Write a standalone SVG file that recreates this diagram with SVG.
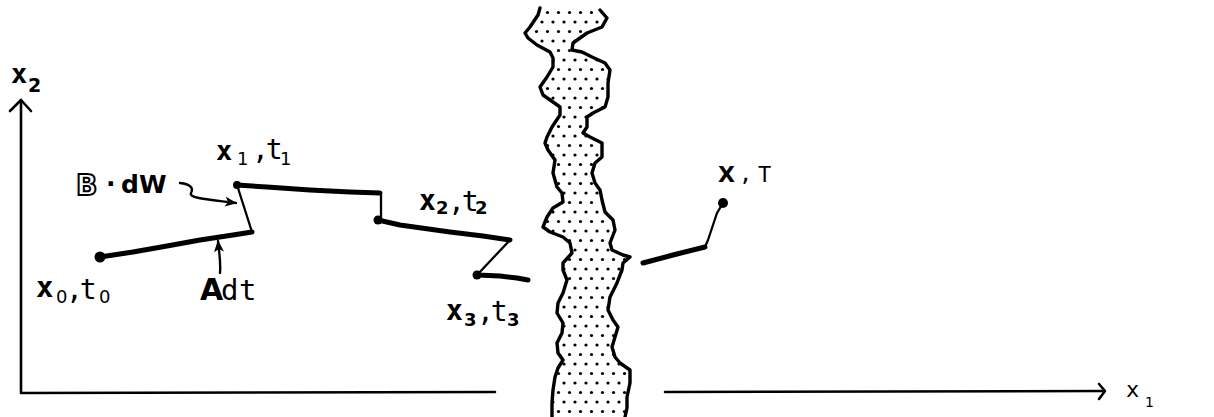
<svg xmlns="http://www.w3.org/2000/svg" width="1214" height="417" viewBox="0 0 1214 417">
<style>
.ax{fill:none;stroke:#000;stroke-width:2.6;stroke-linecap:round;stroke-linejoin:round}
.thick{fill:none;stroke:#000;stroke-width:5;stroke-linecap:round;stroke-linejoin:round}
.thin{fill:none;stroke:#000;stroke-width:2.3;stroke-linecap:round;stroke-linejoin:round}
.edge{fill:none;stroke:#000;stroke-width:3.4;stroke-linecap:round;stroke-linejoin:round}
.bx{font-family:"DejaVu Sans Mono",monospace;font-weight:bold;font-size:29px}
.rg{font-family:"DejaVu Sans Mono",monospace;font-size:28px}
.ct{font-family:"DejaVu Sans Mono",monospace;font-size:28px;letter-spacing:-3px}
.sub{font-family:"DejaVu Sans",sans-serif;font-size:18px}
.subb{font-family:"DejaVu Sans",sans-serif;font-weight:bold;font-size:18px}
.sb{font-family:"DejaVu Sans",sans-serif;font-weight:bold}
.ptr{fill:none;stroke:#000;stroke-width:2.4;stroke-linecap:round;stroke-linejoin:round}
</style>
<defs>
<pattern id="dots" patternUnits="userSpaceOnUse" width="11" height="19">
<rect width="11" height="19" fill="#fff"/>
<circle cx="3" cy="3" r="1.6" fill="#000"/>
<circle cx="8.5" cy="12.5" r="1.6" fill="#000"/>
</pattern>
<marker id="ah" viewBox="0 0 12 10" refX="11" refY="5" markerWidth="12" markerHeight="10" markerUnits="userSpaceOnUse" orient="auto">
<path d="M0,0 L12,5 L0,10 L3,5 Z" fill="#000"/>
</marker>
</defs>
<rect width="1214" height="417" fill="#fff"/>

<g id="axes">
<polyline class="ax" points="21,100 21,393 495,392"/>
<polyline class="ax" points="10,111 21,100 31,111"/>
<line class="ax" x1="665" y1="392" x2="1104" y2="391"/>
<polyline class="ax" points="1099,384 1105,391 1099,399"/>
<text class="bx" x="11" y="83" style="font-size:27px">x</text>
<text class="subb" x="28" y="92" style="font-size:19px">2</text>
<text class="rg" x="1126" y="397" style="font-size:22px">x</text>
<text class="sub" x="1145" y="407" style="font-size:14px">1</text>
</g>

<g id="barrier">
<polygon fill="url(#dots)" points="540,8 538,15 530,27 525,33 528,38 537,45 550,52 553,58 553,67 547,77 540,87 543,95 553,102 560,107 560,115 552,127 547,137 545,143 548,150 555,160 553,173 557,187 562,193 563,202 553,208 547,217 543,227 550,232 563,237 570,243 572,253 563,263 563,270 567,280 563,293 558,303 557,313 563,323 562,333 557,343 558,353 563,360 558,368 555,377 553,390 552,403 552,417 625,417 627,408 627,397 630,383 630,370 620,363 615,357 612,347 615,337 618,327 613,320 608,310 610,297 617,283 620,275 622,270 623,263 630,257 623,255 612,250 610,243 615,230 613,220 605,212 602,200 600,190 595,183 592,173 595,163 602,157 602,143 590,137 583,133 587,127 587,117 593,113 605,107 608,97 608,83 610,70 605,63 592,57 582,52 572,50 573,43 587,33 602,27 607,18 600,10"/>
<polyline class="edge" points="540,8 538,15 530,27 525,33 528,38 537,45 550,52 553,58 553,67 547,77 540,87 543,95 553,102 560,107 560,115 552,127 547,137 545,143 548,150 555,160 553,173 557,187 562,193 563,202 553,208 547,217 543,227 550,232 563,237 570,243 572,253 563,263 563,270 567,280 563,293 558,303 557,313 563,323 562,333 557,343 558,353 563,360 558,368 555,377 553,390 552,403 552,417"/>
<polyline class="edge" points="600,10 607,18 602,27 587,33 573,43 572,50 582,52 592,57 605,63 610,70 608,83 608,97 605,107 593,113 587,117 587,127 583,133 590,137 602,143 602,157 595,163 592,173 595,183 600,190 602,200 605,212 613,220 615,230 610,243 612,250 623,255 630,257 623,263 622,270 620,275 617,283 610,297 608,310 613,320 618,327 615,337 612,347 615,357 620,363 630,370 630,383 627,397 627,408 625,417"/>
</g>

<g id="trajectory">
<polyline class="thick" points="100,257 133,252 167,246 200,240 233,235 252,232"/>
<polyline class="thin" points="252,232 237,185"/>
<polyline class="thick" points="237,185 267,187 310,190 350,192 380,193"/>
<polyline class="thin" points="381,193 381,220"/>
<polyline class="thick" points="378,220 400,225 450,232 483,236 510,240"/>
<polyline class="thin" points="510,240 477,275"/>
<polyline class="thick" points="477,275 500,276 517,278 528,280"/>
<polyline class="thick" points="643,263 673,255 705,247"/>
<polyline class="thin" points="705,247 708,240 717,213 723,203"/>
<circle cx="100" cy="257" r="5.5"/>
<circle cx="237" cy="185" r="4"/>
<circle cx="378" cy="220" r="4.5"/>
<circle cx="477" cy="275" r="4.5"/>
<circle cx="723" cy="203" r="5"/>
</g>

<g id="connectors">
<path class="ptr" d="M220,273 C221,262 219,252 218,241" marker-end="url(#ah)"/>
<path class="ptr" d="M180,183 C190,184 194,188 191,193 C189,198 205,199 236,203" marker-end="url(#ah)"/>
</g>

<g id="labels">
<text class="bx" x="36" y="297">x</text>
<text class="sub" x="56" y="303">0</text>
<text class="ct" x="66" y="299">,t</text>
<text class="sub" x="99" y="303">0</text>

<text class="bx" x="216" y="160" style="font-size:27px">x</text>
<text class="sub" x="237" y="165">1</text>
<text class="ct" x="252" y="159">,t</text>
<text class="sub" x="280" y="165">1</text>

<text class="bx" x="419" y="210" style="font-size:28px">x</text>
<text class="subb" x="436" y="214">2</text>
<text class="ct" x="448" y="211">,t</text>
<text class="subb" x="475" y="214">2</text>

<text class="bx" x="446" y="320" style="font-size:28px">x</text>
<text class="subb" x="464" y="326">3</text>
<text class="ct" x="477" y="321">,t</text>
<text class="subb" x="507" y="326">3</text>

<text class="sb" x="718" y="182" style="font-size:22px">X</text>
<text class="rg" x="739" y="181" style="font-size:22px">,</text>
<text class="rg" x="758" y="182" style="font-size:22px">T</text>

<text class="sb" x="76" y="195" style="font-size:28px;fill:#fff;stroke:#000;stroke-width:2">B</text>
<text class="sb" x="106" y="192" style="font-size:25px">·</text>
<text class="sb" x="121" y="193" style="font-size:25px">d</text>
<text class="sb" x="139" y="193" style="font-size:25px">W</text>

<text class="sb" x="200" y="300" style="font-size:30px">A</text>
<text class="rg" x="221" y="300" style="font-size:29px">d</text>
<text class="rg" x="239" y="300" style="font-size:29px">t</text>
</g>
</svg>
